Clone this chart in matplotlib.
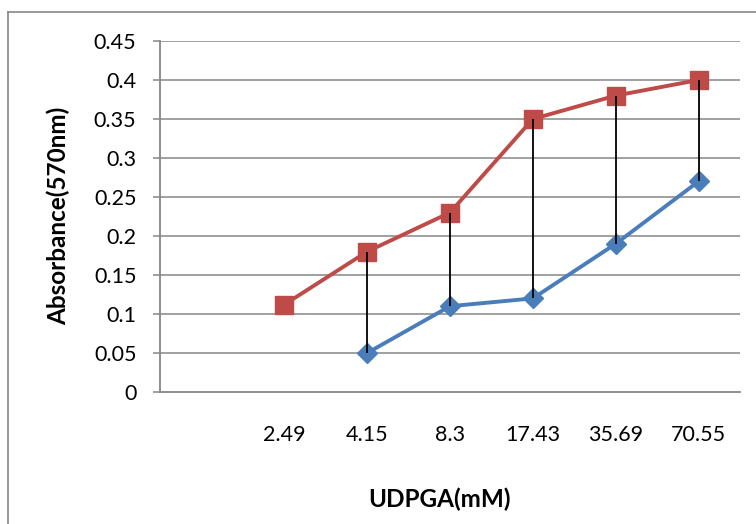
import numpy as np
import matplotlib
matplotlib.use("Agg")
import matplotlib.pyplot as plt
from matplotlib.lines import Line2D

categories = ["", "2.49", "4.15", "8.3", "17.43", "35.69", "70.55"]
series_red = [np.nan, 0.112, 0.18, 0.23, 0.35, 0.38, 0.40]
series_blue = [np.nan, np.nan, 0.05, 0.11, 0.12, 0.19, 0.27]
yticks = [0, 0.05, 0.1, 0.15, 0.2, 0.25, 0.3, 0.35, 0.4, 0.45]
ytick_labels = ["0", "0.05", "0.1", "0.15", "0.2", "0.25", "0.3", "0.35", "0.4", "0.45"]

plt.rcParams['font.family'] = ['Lato', 'DejaVu Sans']

W, H = 756, 524
fig = plt.figure(figsize=(W / 100, H / 100), dpi=100)
ax = fig.add_axes([160 / W, 1 - 392 / H, 580 / W, 351 / H])

x = np.arange(len(categories))
red = np.array(series_red, dtype=float)
blue = np.array(series_blue, dtype=float)

grid_c = "#868686"
for yv in yticks[1:]:
    ax.axhline(yv, color=grid_c, lw=1.1, zorder=1)

ax.plot(x, blue, color="#4A7EBB", lw=2.8, marker="D", ms=10.5,
        markeredgecolor="#4A7EBB", zorder=3, solid_joinstyle="round")
ax.plot(x, red, color="#BE4B48", lw=2.8, marker="s", ms=13.5,
        markeredgecolor="#BE4B48", zorder=3, solid_joinstyle="round")

mask = ~np.isnan(red) & ~np.isnan(blue)
ax.vlines(x[mask], blue[mask], red[mask], color="black", lw=1.3, zorder=4)

ax.set_xlim(-0.5, len(categories) - 0.5)
ax.set_ylim(0, 0.45)
ax.set_yticks(yticks)
ax.set_yticklabels(ytick_labels)
ax.set_xticks(x)
ax.set_xticklabels(categories)

for s in ["top", "right"]:
    ax.spines[s].set_visible(False)
for s in ["left", "bottom"]:
    ax.spines[s].set_color(grid_c)
    ax.spines[s].set_linewidth(1.3)

ax.tick_params(axis="y", length=5, width=1.1, color=grid_c, pad=12, labelsize=15.5)
ax.tick_params(axis="x", length=0, pad=24, labelsize=15.5)

fig.text(440 / W, 1 - 499 / H, "UDPGA(mM)", ha="center", va="center",
         fontsize=17.5, fontweight="bold")
fig.text(58 / W, 1 - 216 / H, "Absorbance(570nm)", ha="center", va="center",
         rotation=90, fontsize=17.5, fontweight="bold")

# outer chart border
fig.add_artist(Line2D([8 / W, 8 / W], [0, 1 - 12 / H], transform=fig.transFigure,
                      color=grid_c, lw=1.2))
fig.add_artist(Line2D([8 / W, 1], [1 - 12 / H, 1 - 12 / H], transform=fig.transFigure,
                      color=grid_c, lw=1.2))

fig.savefig("out.png", dpi=100)
